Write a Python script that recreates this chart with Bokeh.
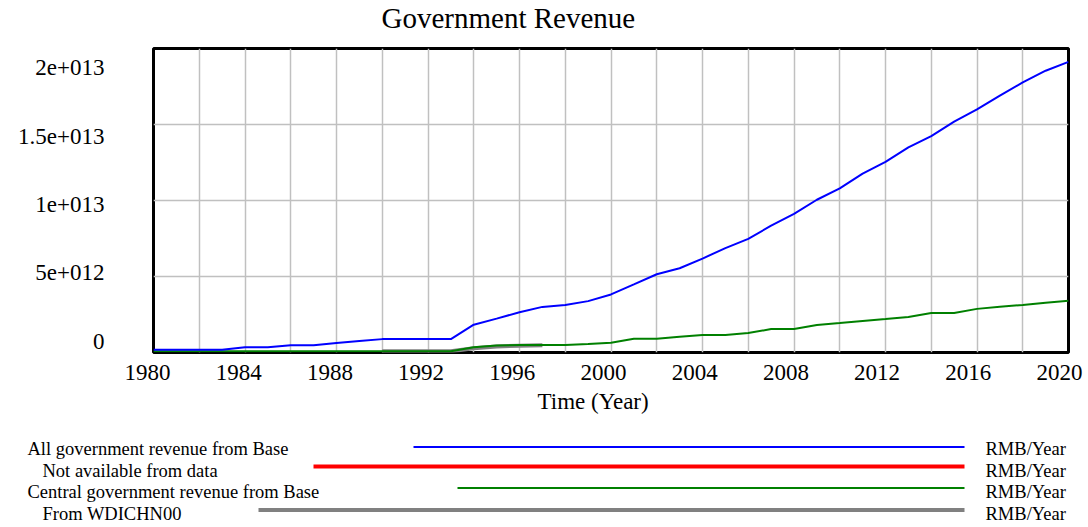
from bokeh.plotting import figure
from bokeh.models import Range1d, LinearAxis, FixedTicker, Title
from bokeh.layouts import column
from bokeh.core.properties import value
from bokeh.embed import file_html
from bokeh.resources import INLINE

# ---------------- data (values in units of 1e12 RMB/Year) ----------------
years = list(range(1980, 2021))
all_gov_revenue_base = [
    0.18, 0.18, 0.18, 0.18, 0.35, 0.35, 0.48, 0.48, 0.62, 0.75,
    0.88, 0.88, 0.88, 0.88, 1.83, 2.23, 2.65, 3.00, 3.13, 3.38,
    3.82, 4.48, 5.15, 5.54, 6.18, 6.87, 7.48, 8.34, 9.12, 10.05,
    10.80, 11.77, 12.54, 13.49, 14.24, 15.19, 16.00, 16.90, 17.77, 18.54,
    19.12,
]
central_gov_revenue_base = [
    0.08, 0.08, 0.08, 0.08, 0.08, 0.08, 0.08, 0.08, 0.08, 0.08,
    0.08, 0.08, 0.08, 0.08, 0.35, 0.46, 0.50, 0.49, 0.49, 0.56,
    0.64, 0.90, 0.90, 1.03, 1.15, 1.15, 1.28, 1.54, 1.54, 1.81,
    1.94, 2.08, 2.20, 2.34, 2.60, 2.60, 2.87, 3.01, 3.13, 3.28,
    3.40,
]
wdi_years = [1990, 1991, 1992, 1993, 1994, 1995, 1996, 1997]
wdi_central_revenue = [0.08, 0.08, 0.08, 0.08, 0.28, 0.40, 0.45, 0.48]

x_ticks = list(range(1980, 2021, 4))
x_grid = list(range(1980, 2021, 2))
y_ticks = [0, 5, 10, 15, 20]
y_tick_labels = ["0", "5e+012", "1e+013", "1.5e+013", "2e+013"]

chart_title = "Government Revenue"
x_axis_title = "Time (Year)"
legend_names = ["All government revenue from Base", "Not available from data",
                "Central government revenue from Base", "From WDICHN00"]
legend_units = ["RMB/Year", "RMB/Year", "RMB/Year", "RMB/Year"]

FONT = "Liberation Serif"
GRID = "#c0c0c0"


def strip(height, **kw):
    f = figure(width=1088, height=height, output_backend="svg", toolbar_location=None,
               title=None, **kw)
    f.frame_align = False
    f.grid.visible = False
    f.outline_line_color = None
    f.background_fill_color = "white"
    f.border_fill_color = "white"
    return f


# ---------------- title strip ----------------
t = strip(46, x_range=Range1d(0, 1088), y_range=Range1d(46, 0), min_border=0)
t.axis.visible = False
t.text(x=[381], y=[17.5], text=[chart_title], text_font=value(FONT),
       text_font_size=value("29px"), text_baseline="middle", text_align="left",
       text_color="black")

# ---------------- main chart ----------------
p = figure(width=1088, height=310, x_range=Range1d(1980, 2020), y_range=Range1d(0, 20),
           output_backend="svg", toolbar_location=None, title=None,
           min_border_left=153, min_border_right=20, min_border_top=2, min_border_bottom=4)
p.frame_align = False
p.background_fill_color = "white"
p.border_fill_color = "white"
p.outline_line_color = "black"
p.outline_line_width = 3
p.xaxis.visible = False
p.yaxis.visible = False

p.xgrid.ticker = FixedTicker(ticks=x_grid)
p.ygrid.ticker = FixedTicker(ticks=y_ticks)
for g in (p.xgrid, p.ygrid):
    g.grid_line_color = GRID
    g.grid_line_width = 1.5

# y labels: Vensim spreads its labels slightly differently from its grid lines
p.extra_y_ranges = {"lab": Range1d(-0.803, 21.387)}
ylab = LinearAxis(y_range_name="lab", ticker=FixedTicker(ticks=y_ticks),
                  major_label_overrides=dict(zip(y_ticks, y_tick_labels)))
ylab.axis_line_color = None
ylab.major_tick_line_color = None
ylab.minor_tick_line_color = None
ylab.major_tick_in = 0
ylab.major_tick_out = 0
ylab.major_label_text_font = FONT
ylab.major_label_text_font_size = "23px"
ylab.major_label_text_color = "black"
ylab.major_label_standoff = 49
p.add_layout(ylab, "left")

p.line(wdi_years, wdi_central_revenue, line_color="#808080", line_width=4)
p.line(years, central_gov_revenue_base, line_color="#008000", line_width=2)
p.line(years, all_gov_revenue_base, line_color="#0000ff", line_width=2)

# ---------------- x tick labels strip (Vensim offsets them from the grid) ----------------
r = strip(72, x_range=Range1d(1980, 2020), y_range=Range1d(0, 1),
          min_border_left=147, min_border_right=29, min_border_top=0, min_border_bottom=71)
r.yaxis.visible = False
xa = r.xaxis[0]
xa.ticker = FixedTicker(ticks=x_ticks)
xa.axis_line_color = None
xa.major_tick_line_color = None
xa.minor_tick_line_color = None
xa.major_tick_in = 0
xa.major_tick_out = 0
xa.major_label_text_font = FONT
xa.major_label_text_font_size = "23px"
xa.major_label_text_color = "black"
xa.major_label_standoff = 7
r.add_layout(Title(text=x_axis_title, align="left", offset=390, standoff=8,
                   text_font=FONT, text_font_size="23px", text_font_style="normal",
                   text_color="black"), "below")

# ---------------- legend panel ----------------
q = strip(99, x_range=Range1d(0, 1088), y_range=Range1d(99, 0), min_border=0)
q.axis.visible = False

row_y = [18.5, 38, 59.5, 81.5]
text_y = [20.5, 42, 63.5, 85]
text_x = [27, 42, 27, 42]
line_x0 = [413, 313, 457, 258]
line_colors = ["#0000ff", "#ff0000", "#008000", "#808080"]
line_widths = [2, 4, 2, 4]

for i in range(4):
    q.segment(x0=line_x0[i], y0=row_y[i], x1=964, y1=row_y[i],
              line_color=line_colors[i], line_width=line_widths[i])
q.text(x=text_x, y=text_y, text=legend_names,
       text_font=value(FONT), text_font_size=value("18.5px"),
       text_baseline="middle", text_align="left", text_color="black")
q.text(x=[985] * 4, y=text_y, text=legend_units,
       text_font=value(FONT), text_font_size=value("18.5px"),
       text_baseline="middle", text_align="left", text_color="black")

layout = column(t, p, r, q, spacing=0)
open("out.html", "w").write(file_html(layout, INLINE))
